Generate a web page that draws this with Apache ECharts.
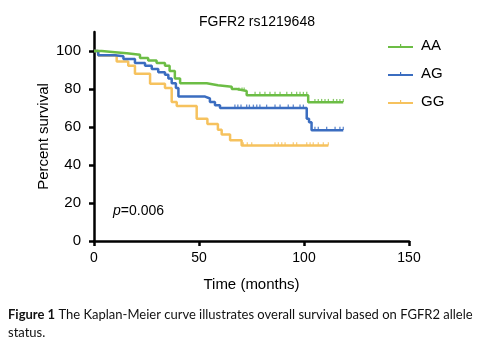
<!DOCTYPE html>
<html>
<head>
<meta charset="utf-8">
<script src="https://cdn.jsdelivr.net/npm/echarts@6/dist/echarts.min.js"></script>
<style>
  html, body { margin: 0; padding: 0; background: #fff; }
  #chart { width: 479px; height: 344px; }
</style>
</head>
<body>
<div id="chart"></div>
<script>
// Kaplan-Meier step curves: event times (months) and survival (%) after each step
const timesAA = [0, 3.7, 10, 15.6, 21.9, 25.8, 29.8, 33.8, 36, 38.5, 41, 53.7, 59, 65.6, 68, 72.7, 102, 118.7];
const survAA  = [100, 99.4, 98.8, 98, 96.3, 95, 93.7, 92.3, 89.5, 85.5, 83, 82, 81.2, 80, 79, 76.7, 73, 73];

const timesAG = [0, 2, 10, 14, 19.5, 24.3, 27.5, 30.6, 33.8, 35.4, 37, 39, 40.2, 52.9, 55.2, 57.6, 60, 101.3, 102.4, 103.6, 118.7];
const survAG  = [100, 97.8, 97.2, 95.8, 93.7, 92.3, 90.5, 88.8, 87.5, 85.5, 83, 80.5, 76, 75, 73.2, 71.4, 70, 64.4, 62.5, 58.3, 58.3];

const timesGG = [0, 2, 10.8, 16.3, 19.5, 26.7, 33.8, 37, 39.4, 48.9, 54, 59, 60.8, 64.8, 70.3, 111.6];
const survGG  = [100, 97.6, 94.5, 92.2, 88, 82.7, 80.5, 73.2, 71, 64.4, 61.6, 58.5, 56, 53, 50.2, 50.2];

// Censored observations (months)
const censorAA = [69, 70.5, 71.5, 76.7, 79, 81.4, 83.8, 86.2, 88.6, 91.8, 94.1, 96.5, 98.1, 99.7, 101.3, 105.2, 106.8, 108.4, 110, 111.6, 114, 115.6, 117.1, 118.7];
const censorAG = [67.1, 68.5, 70, 72.7, 74, 75.9, 77.5, 79, 82.2, 86.2, 88.6, 92.5, 94.9, 98.1, 99.7, 105.2, 106.8, 110.8, 114.8, 117.1, 118.7];
const censorGG = [71.1, 73, 75.1, 86.2, 87.8, 89.4, 91, 94.9, 96.5, 101.3, 102.9, 104.4, 106.8, 109.2, 111.6];

const groups = ['AA', 'AG', 'GG'];
const colors = { AA: '#6cbd45', AG: '#3b6dc0', GG: '#f6c25e' };
const xTicks = [0, 50, 100, 150];
const yTicks = [0, 20, 40, 60, 80, 100];

function pairs(ts, ss) { return ts.map((t, i) => [t, ss[i]]); }
function stepValue(ts, ss, t) {
  let v = ss[0];
  for (let i = 0; i < ts.length; i++) { if (ts[i] <= t) v = ss[i]; }
  return v;
}
function censorPoints(cs, ts, ss) { return cs.map(t => [t, stepValue(ts, ss, t)]); }

const curves = {
  AA: { times: timesAA, surv: survAA, censor: censorAA },
  AG: { times: timesAG, surv: survAG, censor: censorAG },
  GG: { times: timesGG, surv: survGG, censor: censorGG }
};

const font = 'Liberation Sans, Arial, sans-serif';
const captionFont = 'Lato, sans-serif';
// legend glyph: short line with a small censor tick in the middle
const legendIcon = 'path://M0,3H12V1H13.2V3H25V5H0Z';

const series = [];
['GG', 'AG', 'AA'].forEach(g => {
  const c = curves[g];
  series.push({
    name: g, type: 'line', step: 'end', showSymbol: false, symbol: 'none',
    data: pairs(c.times, c.surv),
    lineStyle: { color: colors[g], width: 2.5 },
    itemStyle: { color: colors[g] },
    animation: false, z: 2
  });
  series.push({
    name: g + ' censored', type: 'scatter',
    data: censorPoints(c.censor, c.times, c.surv),
    symbol: 'rect', symbolSize: [1.3, 3.2], symbolOffset: [0, -1.8],
    itemStyle: { color: colors[g] },
    animation: false, z: 3, silent: true
  });
});

const chart = echarts.init(document.getElementById('chart'), null, { renderer: 'canvas' });
chart.setOption({
  backgroundColor: '#fff',
  animation: false,
  title: {
    text: 'FGFR2 rs1219648', left: 252, top: 10, textAlign: 'center',
    textStyle: { fontFamily: font, fontSize: 14, fontWeight: 'normal', color: '#000' }
  },
  legend: {
    orient: 'vertical', left: 383, top: 33,
    itemWidth: 25, itemHeight: 4, itemGap: 12,
    textStyle: { fontFamily: font, fontSize: 15, color: '#000', lineHeight: 16, padding: [0, 0, 0, 3] },
    data: groups.map(g => ({ name: g, icon: legendIcon, itemStyle: { color: colors[g] } }))
  },
  grid: { left: 94, right: 70, top: 32, bottom: 103, containLabel: false, outerBoundsMode: 'none' },
  xAxis: {
    type: 'value', min: 0, max: 150, interval: 50,
    name: 'Time (months)', nameLocation: 'middle', nameGap: 36,
    nameTextStyle: { fontFamily: font, fontSize: 15, color: '#000' },
    axisLine: { lineStyle: { color: '#000', width: 2.5 } },
    axisTick: { show: true, length: 5, lineStyle: { color: '#000', width: 2.5 }, customValues: xTicks },
    axisLabel: { fontFamily: font, fontSize: 14, color: '#000', margin: 10, customValues: xTicks },
    splitLine: { show: false }
  },
  yAxis: {
    type: 'value', min: 0, max: 110,
    name: 'Percent survival', nameLocation: 'middle', nameGap: 43, nameRotate: 90,
    nameMoveOverlap: false,
    nameTextStyle: { fontFamily: font, fontSize: 15, color: '#000' },
    axisLine: { show: true, lineStyle: { color: '#000', width: 2.5 } },
    axisTick: { show: true, length: 5, lineStyle: { color: '#000', width: 2.5 }, customValues: yTicks },
    axisLabel: { fontFamily: font, fontSize: 15, color: '#000', margin: 13, customValues: yTicks },
    splitLine: { show: false }
  },
  graphic: [
    {
      type: 'text', left: 113, top: 204,
      style: {
        text: '{i|p}{n|=0.006}',
        rich: {
          i: { fontFamily: font, fontSize: 14, fontStyle: 'italic', fill: '#000' },
          n: { fontFamily: font, fontSize: 14, fill: '#000' }
        }
      }
    },
    {
      type: 'text', left: 8, top: 308,
      style: {
        text: '{b|Figure 1} The Kaplan-Meier curve illustrates overall survival based on FGFR2 allele',
        font: '13px Lato, sans-serif', fill: '#111',
        rich: { b: { fontFamily: captionFont, fontSize: 13, fontWeight: 'bold', fill: '#111' } }
      }
    },
    {
      type: 'text', left: 8, top: 326,
      style: { text: 'status.', font: '13px Lato, sans-serif', fill: '#111' }
    }
  ],
  series: series
});
</script>
</body>
</html>
